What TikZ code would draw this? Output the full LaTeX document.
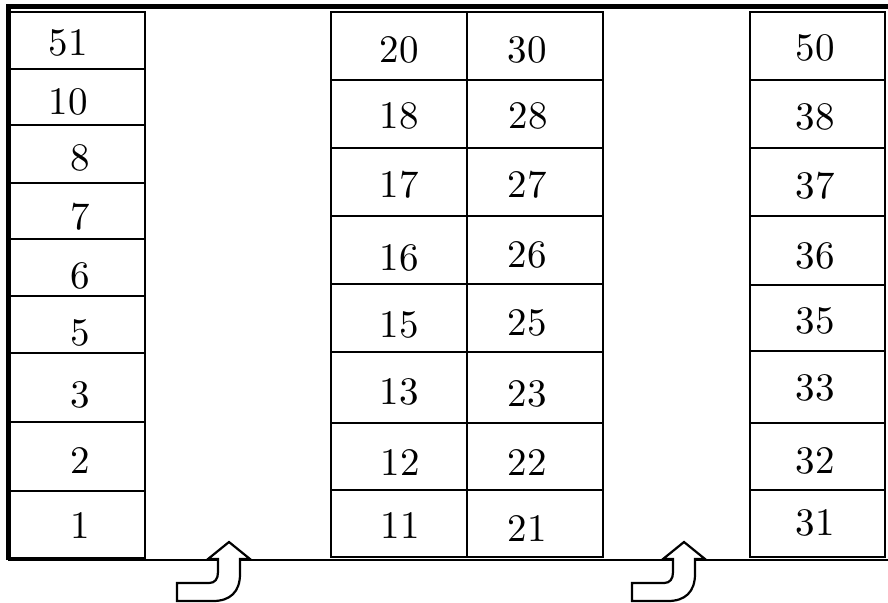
\documentclass[tikz,border=0pt]{standalone}
\usepackage{fontspec}
\setmainfont{lmroman10-regular.otf}
\begin{document}
\begin{tikzpicture}[x=0.5pt,y=-0.5pt,
  lbl/.style={inner sep=0pt, font=\fontsize{19.5}{20}\selectfont},
  cell/.style={draw=black, line width=1pt},
  wall/.style={draw=black, line width=2.2pt},
  uarrow/.style={draw=black, fill=white, line width=1.1pt, line join=miter}]
\useasboundingbox (0,0) rectangle (888,602);
% bottom line
\draw[line width=1.1pt] (8,560) -- (888,560);
% left column
\foreach \a/\b in {12/69,69/125,125/183,183/239,239/296,296/353,353/422,422/491,491/558}
  \draw[cell] (8,\a) rectangle (145,\b);
% middle column
\foreach \a/\b in {12/80,80/148,148/216,216/284,284/352,352/423,423/490,490/557}{
  \draw[cell] (331,\a) rectangle (467,\b);
  \draw[cell] (467,\a) rectangle (603,\b);}
% right column
\foreach \a/\b in {12/80,80/148,148/216,216/285,285/351,351/423,423/490,490/557}
  \draw[cell] (750,\a) rectangle (885,\b);
% walls
\draw[wall] (8.5,560) -- (8.5,6.5) -- (888,6.5);
% labels left
\node[lbl] (n51) at (68,43) {51};
\node[lbl] (n10) at (68,102) {10};
\node[lbl] (n8) at (80,158) {8};
\node[lbl] (n7) at (80,217) {7};
\node[lbl] (n6) at (80,276) {6};
\node[lbl] (n5) at (80,333) {5};
\node[lbl] (n3) at (80,395) {3};
\node[lbl] (n2) at (80,460) {2};
\node[lbl] (n1) at (80,525) {1};
% labels middle
\node[lbl] (n20) at (399,50) {20};
\node[lbl] (n18) at (399,116) {18};
\node[lbl] (n17) at (399,185) {17};
\node[lbl] (n16) at (399,258) {16};
\node[lbl] (n15) at (399,325) {15};
\node[lbl] (n13) at (399,392) {13};
\node[lbl] (n12) at (400,462) {12};
\node[lbl] (n11) at (400,525) {11};
\node[lbl] (n30) at (527,50) {30};
\node[lbl] (n28) at (528,116) {28};
\node[lbl] (n27) at (527,185) {27};
\node[lbl] (n26) at (527,255) {26};
\node[lbl] (n25) at (527,323) {25};
\node[lbl] (n23) at (527,394) {23};
\node[lbl] (n22) at (527,462) {22};
\node[lbl] (n21) at (527,528) {21};
% labels right
\node[lbl] (n50) at (815,48) {50};
\node[lbl] (n38) at (815,117) {38};
\node[lbl] (n37) at (815,186) {37};
\node[lbl] (n36) at (815,256) {36};
\node[lbl] (n35) at (815,321) {35};
\node[lbl] (n33) at (815,388) {33};
\node[lbl] (n32) at (815,461) {32};
\node[lbl] (n31) at (815,523) {31};
% turning arrows
\foreach \dx in {0,455}{
\begin{scope}[xshift=\dx*0.5pt]
\draw[uarrow] (229,542) -- (250,559) -- (240,559) -- (240,574)
  .. controls (240,592) and (230,601) .. (213,601) -- (177,601) -- (177,583)
  -- (209,583) .. controls (215,583) and (218,579) .. (218,572)
  -- (218,559) -- (208,559) -- cycle;
\end{scope}}
\end{tikzpicture}
\end{document}
